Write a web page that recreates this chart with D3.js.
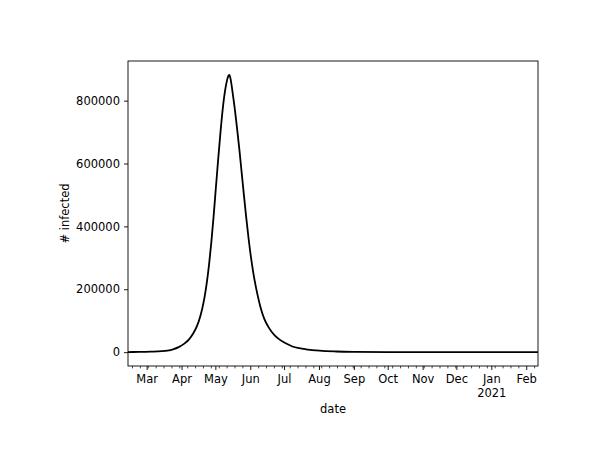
<!DOCTYPE html>
<html>
<head>
<meta charset="utf-8">
<script src="https://cdn.jsdelivr.net/npm/d3@7"></script>
<style>
body{margin:0;background:#fff}
text{font-family:"DejaVu Sans",sans-serif;fill:#000}
</style>
</head>
<body>
<svg width="598" height="466"></svg>
<script>
// infected curve
var dates = ["2020-02-13","2020-02-23","2020-03-04","2020-03-14","2020-03-19","2020-03-24",
             "2020-03-29","2020-04-03","2020-04-07","2020-04-11","2020-04-14","2020-04-17",
             "2020-04-19","2020-04-21","2020-04-23","2020-04-25","2020-04-27","2020-04-29",
             "2020-05-01","2020-05-03","2020-05-05","2020-05-07","2020-05-09","2020-05-11",
             "2020-05-12","2020-05-13","2020-05-14","2020-05-16","2020-05-18","2020-05-20",
             "2020-05-22","2020-05-24","2020-05-26","2020-05-28","2020-05-30","2020-06-01",
             "2020-06-03","2020-06-05","2020-06-07","2020-06-10","2020-06-13","2020-06-17",
             "2020-06-22","2020-06-27","2020-07-02","2020-07-08","2020-07-14","2020-07-20",
             "2020-08-01","2020-08-16","2020-08-31","2020-09-30","2020-10-30","2020-12-09",
             "2021-02-11"]
var infected = [300,700,1500,3000,5000,9000,
                16000,27000,40000,60000,81000,112000,
                140000,176000,222000,280000,350000,432000,
                522000,611000,695000,770000,828000,866000,
                878000,882000,870000,822000,768000,706000,
                640000,568000,496000,427000,363000,306000,
                258000,217000,182000,138000,106000,78000,
                54000,39000,28000,18000,12500,9000,
                4500,2000,900,300,100,30,
                5]
var yTicks = [0,200000,400000,600000,800000]
var xRange = ["2020-02-13","2021-02-11"]

var screen = {width:598,height:466}
var margins = {left:128,right:60,top:61,bottom:100}
var graph = {width:screen.width-margins.left-margins.right,
             height:screen.height-margins.top-margins.bottom}

var parse = d3.utcParse("%Y-%m-%d")
var data = dates.map(function(d,i){ return {date:parse(d),value:infected[i]} })

var xScale = d3.scaleUtc()
    .domain(xRange.map(parse))
    .range([0,graph.width])
var maxV = d3.max(infected)
var yScale = d3.scaleLinear()
    .domain([-0.05*maxV,1.05*maxV])
    .range([graph.height,0])

var svg = d3.select("svg")
var target = svg.append("g")
    .attr("transform","translate("+margins.left+","+margins.top+")")

// curve
var line = d3.line()
    .x(function(d){ return xScale(d.date) })
    .y(function(d){ return yScale(d.value) })
    .curve(d3.curveMonotoneX)
target.append("path")
    .datum(data)
    .attr("d",line)
    .attr("fill","none")
    .attr("stroke","#000")
    .attr("stroke-width",1.8)

// frame
target.append("rect")
    .attr("x",0).attr("y",0)
    .attr("width",graph.width).attr("height",graph.height)
    .attr("fill","none")
    .attr("stroke","#000")
    .attr("stroke-width",0.9)

// y axis
var yAxis = d3.axisLeft(yScale)
    .tickValues(yTicks)
    .tickFormat(d3.format("d"))
    .tickSize(4)
    .tickPadding(4)
var yg = target.append("g").call(yAxis)
yg.select(".domain").remove()
yg.selectAll("line").attr("stroke-width",0.9)
yg.selectAll("text").attr("font-size",11.5).style("font-family","DejaVu Sans")

// x axis: month starts major, mondays minor
var dom = xScale.domain()
var months = d3.utcMonth.range(d3.utcMonth.ceil(dom[0]),d3.utcDay.offset(dom[1],1))
var mondays = d3.utcMonday.range(dom[0],d3.utcDay.offset(dom[1],1))
    .filter(function(d){ return d.getUTCDate()!=1 })

var xg = target.append("g")
    .attr("transform","translate(0,"+graph.height+")")
xg.selectAll("line.minor")
    .data(mondays)
    .enter()
    .append("line")
    .attr("x1",function(d){ return xScale(d) })
    .attr("x2",function(d){ return xScale(d) })
    .attr("y1",0).attr("y2",2.4)
    .attr("stroke","#000").attr("stroke-width",0.7)
xg.selectAll("line.major")
    .data(months)
    .enter()
    .append("line")
    .attr("x1",function(d){ return xScale(d) })
    .attr("x2",function(d){ return xScale(d) })
    .attr("y1",0).attr("y2",4)
    .attr("stroke","#000").attr("stroke-width",0.9)
var mLabels = xg.selectAll("text.month")
    .data(months)
    .enter()
    .append("text")
    .attr("text-anchor","middle")
    .attr("font-size",11.5)
    .attr("x",function(d){ return xScale(d) })
    .attr("y",17)
mLabels.append("tspan")
    .text(function(d){ return d3.utcFormat("%b")(d) })
mLabels.filter(function(d){ return d.getUTCMonth()==0 })
    .append("tspan")
    .attr("x",function(d){ return xScale(d) })
    .attr("dy",13.5)
    .text(function(d){ return d3.utcFormat("%Y")(d) })

// labels
target.append("text")
    .text("date")
    .attr("text-anchor","middle")
    .attr("font-size",11.5)
    .attr("x",graph.width/2)
    .attr("y",graph.height+47)
svg.append("g")
    .attr("transform","translate(69,"+(margins.top+graph.height/2)+")")
    .append("text")
    .text("# infected")
    .attr("text-anchor","middle")
    .attr("font-size",11.5)
    .attr("transform","rotate(270)")
</script>
</body>
</html>
